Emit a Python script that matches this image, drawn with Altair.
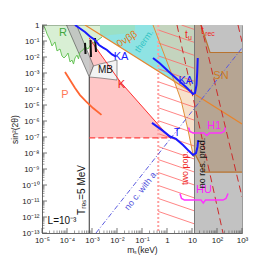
import math
import altair as alt
import pandas as pd

FONT = "Liberation Sans"
W, H = 200, 208

# ---------------- values (log10 units) ----------------
# x = log10(m_s / keV), y = log10(sin^2 2theta)
x_tick_values = [-5, -4, -3, -2, -1, 0, 1, 2, 3]
y_tick_values = list(range(-13, 1))

# R region lower (jagged) boundary
R_x = [-4.96, -4.88, -4.80, -4.68, -4.60, -4.48, -4.40, -4.28, -4.20, -4.12, -4.04, -3.96, -3.88,
       -3.80, -3.74, -3.68, -3.60, -3.54, -3.48, -3.36, -3.28, -3.16, -3.04, -2.88, -2.76, -2.60,
       -2.28, -1.88, -1.28]
R_y = [-0.03, -0.19, -0.56, -0.94, -1.31, -1.06, -1.62, -1.50, -1.94, -2.06, -1.94, -1.75, -2.31,
       -2.19, -2.44, -2.06, -1.88, -2.12, -1.69, -1.56, -1.38, -1.50, -1.19, -1.06, -0.94, -0.75,
       -0.62, -0.56, -0.50]

# thermalisation region (teal)
therm_x = [-2.68, 1.08, 1.08, -2.68]
therm_y = [0.0, 0.0, -4.33, -0.59]

# K region (kinks), upper red boundary, lower dashed boundary
K_x = [-3.11, -2.88, -1.88, 0.12]
K_y = [-0.81, -1.34, -3.53, -7.06]
K_floor = -7.06

# hatched band and MB region
band_x = [-4.02, -3.62, -2.94, -3.11]
band_y = [0.0, 0.0, -2.56, -3.25]
MB_x = [-3.11, -2.94, -2.68, -2.00, -2.00, -2.68]
MB_y = [-3.25, -2.56, -2.44, -2.19, -3.44, -3.31]

# short black data bars
bars_x = [[-3.28, -3.26], [-3.06, -3.04], [-2.88, -2.84]]
bars_y = [[-1.12, -1.81], [-0.94, -2.00], [-0.81, -1.69]]

# P curve
P_x = [-4.08, -3.88, -3.68, -3.48, -3.24, -2.96, -2.62]
P_y = [-2.94, -3.44, -3.94, -4.38, -4.78, -5.19, -5.62]

# KA curves
KA1_x = [-3.68, -3.28, -3.08, -2.88, -2.72, -2.56, -2.40, -2.20, -2.04]
KA1_y = [0.0, -0.44, -0.72, -0.94, -1.25, -1.41, -1.56, -1.84, -1.97]
KA2_x = [-0.56, -0.28, 0.04, 0.44, 0.76, 0.92, 1.04, 1.12, 1.18, 1.21, 1.23]
KA2_y = [-2.06, -2.41, -2.88, -3.44, -3.88, -4.12, -4.31, -4.25, -3.75, -2.94, -2.06]

# T curve
T_x = [-0.60, -0.16, 0.12, 0.36, 0.64, 0.88, 1.04, 1.16, 1.22, 1.25]
T_y = [-6.12, -6.62, -6.97, -7.12, -7.50, -7.88, -8.12, -8.00, -7.62, -7.19]

# 0nubb line
bb_x = [-3.28, 3.0]
bb_y = [0.0, -6.19]

# peach (t_u) region, steep orange boundary
tu_x = [-0.56, 0.20, 0.56, 0.84, 1.06]
tu_y = [0.0, -3.12, -4.69, -6.56, -8.25]

# no resonant production (gray) and SN (brown)
gray_x = [1.1, 3.0]
SN_x = [1.10, 1.36, 1.72, 3.00, 3.00, 1.50, 1.10]
SN_y = [0.00, 0.00, -1.72, -1.72, -9.19, -9.19, -8.00]

# dashed lifetime lines
tu_line_x = [0.40, 2.24]
tu_line_y = [0.0, -13.0]
trec_x = [1.36, 3.0]
trec_y = [0.0, -10.74]
third_x = [2.84, 3.0]
third_y = [0.0, -1.06]

# "no c. with a." line
noc_x = [-2.84, 3.0]
noc_y = [-13.0, -1.44]

T_res_x = -3.11
two_pop_x = [-0.35, 1.1]

# braces
H1_x = [0.86, 0.92, 1.04, 1.48, 1.59, 1.70, 2.16, 2.28, 2.34]
H1_y = [-6.41, -6.66, -6.75, -6.75, -6.91, -6.75, -6.75, -6.66, -6.41]
HU_x = [0.52, 0.58, 0.70, 1.36, 1.45, 1.54, 2.24, 2.36, 2.44]
HU_y = [-10.53, -10.84, -10.94, -10.94, -11.12, -10.94, -10.94, -10.84, -10.53]

LABELS = [
    ("R", -4.16, -0.50, "#3fa63f", 11, 0),
    ("MB", -2.46, -2.81, "#111111", 10, 0),
    ("K", -1.82, -3.72, "#ee2222", 11, 0),
    ("KA", -1.84, -2.03, "#1a1aff", 11, 0),
    ("KA", 0.75, -3.47, "#1a1aff", 11, 0),
    ("T", 0.40, -6.75, "#1a1aff", 10, 0),
    ("P", -4.08, -4.38, "#ff7755", 11, 0),
    ("0νββ", -1.60, -0.88, "#e07b20", 10, 328),
    ("therm.", -0.92, -1.00, "#33c4c4", 9, 305),
    ("SN", 2.16, -3.19, "#cc7a22", 11, 0),
    ("H1", 1.88, -6.31, "#ff22ff", 11, 0),
    ("HU", 1.48, -10.31, "#ff22ff", 11, 0),
    ("no res. prod.", 1.40, -8.62, "#111111", 9, 270),
    ("two pop.", 0.70, -8.94, "#ee2222", 9, 270),
    ("no c. with a.", -1.04, -10.31, "#5555dd", 9, 308),
    ("Tᵣₑₛ=5 MeV", -3.40, -10.31, "#111111", 10, 270),
    ("L=10⁻³", -4.20, -12.25, "#111111", 10, 0),
    ("t", 0.78, -0.62, "#ee2222", 10, 0),
    ("u", 0.92, -0.84, "#ee2222", 7, 0),
    ("t", 1.42, -0.38, "#ee2222", 10, 0),
    ("rec", 1.72, -0.56, "#ee2222", 7, 0),
]

# ---------------- helpers ----------------
SUP = str.maketrans("-0123456789", "⁻⁰¹²³⁴⁵⁶⁷⁸⁹")


def lab(v):
    if v == 0:
        return "1"
    if v == 1:
        return "10"
    return "10" + str(v).translate(SUP)


def expr(vals):
    return " : ".join(f"datum.value == {v} ? '{lab(v)}'" for v in vals) + " : ''"


AX = dict(ticks=False, grid=False, domain=True, domainColor="#666", labelFont=FONT,
          labelFontSize=8, labelColor="#222", labelPadding=3, labelFlush=False,
          labelOverlap=False, titleFont=FONT, titleFontSize=8.5, titleFontWeight="normal",
          titleColor="#222")
xscale = alt.Scale(domain=[-5, 3], nice=False, zero=False)
yscale = alt.Scale(domain=[-13, 0], nice=False, zero=False)
xaxis = alt.Axis(values=x_tick_values, labelExpr=expr(x_tick_values), title="mₛ(keV)",
                 titlePadding=1, **AX)
yaxis = alt.Axis(values=y_tick_values, labelExpr=expr(y_tick_values), title="sin²(2θ)",
                 titlePadding=2, **AX)


def X():
    return alt.X("x:Q", scale=xscale, axis=xaxis)


def Y():
    return alt.Y("y:Q", scale=yscale, axis=yaxis)


def df_xy(xs, ys):
    return pd.DataFrame({"x": xs, "y": ys, "i": list(range(len(xs)))})


def poly(xs, ys, fill, opacity=1.0):
    return alt.Chart(df_xy(xs, ys)).mark_line(
        fill=fill, fillOpacity=opacity, strokeOpacity=0, strokeWidth=0, clip=True
    ).encode(x=X(), y=Y(), order="i:Q")


def line(xs, ys, color, width=1.0, dash=None, opacity=1.0):
    kw = dict(color=color, strokeWidth=width, clip=True, opacity=opacity)
    if dash:
        kw["strokeDash"] = dash
    return alt.Chart(df_xy(xs, ys)).mark_line(**kw).encode(x=X(), y=Y(), order="i:Q")


def text(s, x, y, color, size, angle):
    kw = dict(font=FONT, fontSize=size, color=color, align="center", baseline="middle")
    if angle:
        kw["angle"] = angle
    return alt.Chart(pd.DataFrame({"x": [x], "y": [y], "t": [s]})).mark_text(**kw).encode(
        x=X(), y=Y(), text="t:N")


layers = []

# gray region
layers.append(alt.Chart(pd.DataFrame({"x": [gray_x[0]], "x2": [gray_x[1]], "y": [-13], "y2": [0]}))
              .mark_rect(color="#c2c2c2").encode(x=X(), x2="x2:Q", y=Y(), y2="y2:Q"))
# teal thermal region
layers.append(poly(therm_x, therm_y, "#8fe3e3"))
# R region
layers.append(poly([-5.0] + R_x + [R_x[-1]], [0.0] + R_y + [0.0], "#a8dca0", 0.45))
# K region
layers.append(poly(K_x + [K_x[0]], K_y + [K_floor], "#ffc6c6"))
# peach
layers.append(poly(tu_x + [two_pop_x[1], two_pop_x[1]], tu_y + [tu_y[-1], 0.0], "#f0c8a0", 0.55))
# SN
layers.append(poly(SN_x, SN_y, "#b6a593"))
# hatched band + MB
layers.append(poly(band_x, band_y, "#bdbdbd", 0.8))
layers.append(line(band_x + [band_x[0]], band_y + [band_y[0]], "#444", 0.6))
layers.append(poly(MB_x, MB_y, "#f3f3f3"))
layers.append(line(MB_x + [MB_x[0]], MB_y + [MB_y[0]], "#555", 0.6))
# green R line
layers.append(line(R_x[:26], R_y[:26], "#5cbf4c", 0.9))

# red hatch in two-pop region
HX0, HX1 = two_pop_x
drop, gap = 0.78, 0.81
rows = []
y0, seg = 0.5, 0
while y0 - drop > -13.0:
    xa, ya, xb, yb = HX0, y0, HX1, y0 - drop
    if ya > 0:
        xa = HX0 + ya / drop * (HX1 - HX0)
        ya = 0.0
    if yb < -13:
        xb = HX0 + (y0 + 13) / drop * (HX1 - HX0)
        yb = -13.0
    rows += [{"x": xa, "y": ya, "s": seg, "i": 0}, {"x": xb, "y": yb, "s": seg, "i": 1}]
    seg += 1
    y0 -= gap
layers.append(alt.Chart(pd.DataFrame(rows)).mark_line(color="#ff6666", strokeWidth=0.8, clip=True)
              .encode(x=X(), y=Y(), detail="s:N", order="i:Q"))

# vertical guide lines
layers.append(line([two_pop_x[0]] * 2, [0, -13], "#ffa0a0", 2, [2, 2]))
layers.append(line([gray_x[0]] * 2, [0, -13], "#777777", 1))
layers.append(line([T_res_x] * 2, [band_y[3], -13], "#333333", 1))

# boundaries
layers.append(line(K_x, K_y, "#ff3030", 1))
layers.append(line([K_x[0], K_x[-1]], [K_floor, K_floor], "#ff4040", 1.2, [6, 3]))
layers.append(line(SN_x[1:4], SN_y[1:4], "#b8732f", 1.2))
layers.append(line(SN_x[4:7][::-1], SN_y[4:7][::-1], "#b8732f", 1.2))
layers.append(line(bb_x, bb_y, "#e8842c", 1.2))
layers.append(line(tu_x, tu_y, "#e0903a", 1))
layers.append(line(tu_line_x, tu_line_y, "#cc2b2b", 1, [7, 4]))
layers.append(line(trec_x, trec_y, "#cc2b2b", 1, [7, 4]))
layers.append(line(third_x, third_y, "#cc2b2b", 1, [7, 4]))
layers.append(line(noc_x, noc_y, "#5b5be0", 1, [5, 2, 1, 2]))
for bx, by in zip(bars_x, bars_y):
    layers.append(line(bx, by, "#111111", 2))
layers.append(line(P_x, P_y, "#ff6633", 1.8))
layers.append(line(KA1_x, KA1_y, "#1a1aff", 2))
layers.append(line(KA2_x, KA2_y, "#1a1aff", 2))
layers.append(line(T_x, T_y, "#1a1aff", 2))
layers.append(line(H1_x, H1_y, "#ff33ff", 1.5))
layers.append(line(HU_x, HU_y, "#ff33ff", 1.5))

for s, x, y, c, size, ang in LABELS:
    layers.append(text(s, x, y, c, size, ang))

# inward ticks
minor_y = [d + math.log10(k) for d in range(-13, 0) for k in range(2, 10)]
minor_x = [d + math.log10(k) for d in range(-5, 3) for k in range(2, 10)]
TK = "#555555"
layers.append(alt.Chart(pd.DataFrame({"y": y_tick_values})).mark_rule(color=TK, strokeWidth=0.8)
              .encode(y=Y(), x=alt.value(0), x2=alt.value(5)))
layers.append(alt.Chart(pd.DataFrame({"y": minor_y})).mark_rule(color=TK, strokeWidth=0.6)
              .encode(y=Y(), x=alt.value(0), x2=alt.value(2.5)))
layers.append(alt.Chart(pd.DataFrame({"x": x_tick_values})).mark_rule(color=TK, strokeWidth=0.8)
              .encode(x=X(), y=alt.value(H), y2=alt.value(H - 5)))
layers.append(alt.Chart(pd.DataFrame({"x": minor_x})).mark_rule(color=TK, strokeWidth=0.6)
              .encode(x=X(), y=alt.value(H), y2=alt.value(H - 2.5)))

chart = alt.layer(*layers).properties(
    width=W, height=H,
    autosize=alt.AutoSizeParams(type="none"),
    padding={"left": 34, "top": 17, "right": 19, "bottom": 27},
).configure_view(stroke="#999999", strokeWidth=1)

chart.save("out.html", embed_options={"renderer": "svg", "actions": False})
